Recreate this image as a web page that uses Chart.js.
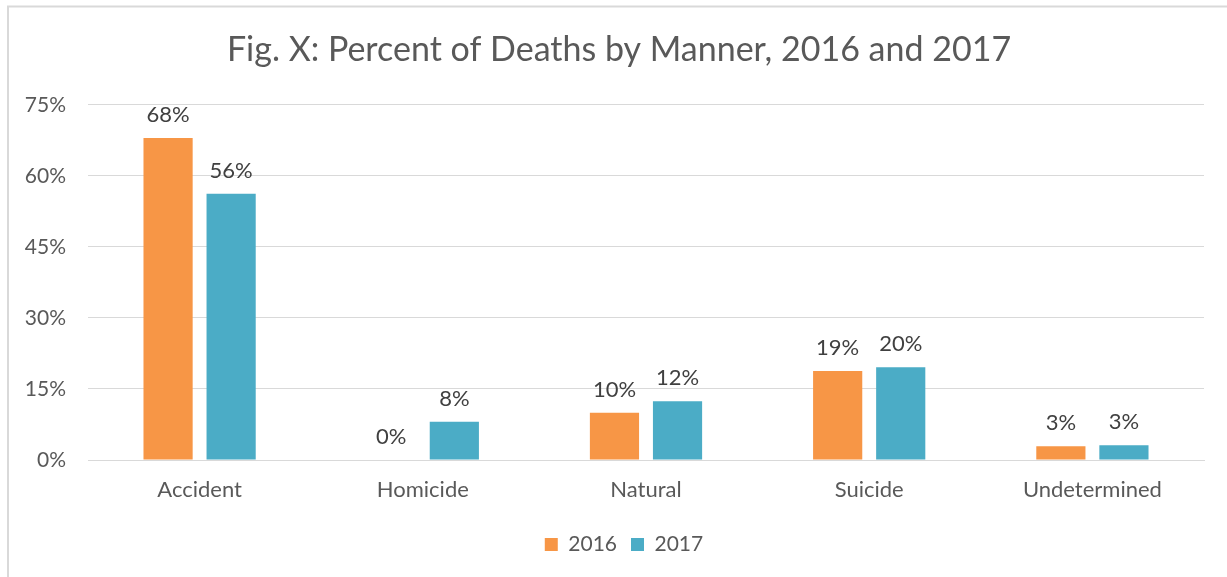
<!DOCTYPE html>
<html>
<head>
<meta charset="utf-8">
<script src="https://cdn.jsdelivr.net/npm/chart.js@4"></script>
<style>
  html, body { margin: 0; padding: 0; background: #fff; }
  #wrap { width: 1227px; height: 577px; position: relative; }
</style>
</head>
<body>
<div id="wrap"><canvas id="mannerChart" width="1227" height="577"></canvas></div>
<script>
// Percent of deaths by manner
const categories = ['Accident', 'Homicide', 'Natural', 'Suicide', 'Undetermined'];
const values2016 = [68.0, 0, 10.0, 18.8, 2.9];
const values2017 = [56.2, 8.1, 12.4, 19.6, 3.1];
const yTicks = [0, 15, 30, 45, 60, 75];

const FONT = 'Lato, "Open Sans", sans-serif';
const GREY_TEXT = '#595959';
const GRID = '#d9d9d9';

// white background + the light frame (left and top only)
const framePlugin = {
    id: 'frame',
    afterLayout(chart) {
        // title and legend sit a little right of the canvas centre in the original
        chart.titleBlock.left += 17;
        chart.titleBlock.right += 17;
        chart.legend.left += 22;
        chart.legend.right += 22;
    },
    beforeDraw(chart) {
        const ctx = chart.ctx;
        ctx.save();
        ctx.fillStyle = '#fff';
        ctx.fillRect(0, 0, chart.width, chart.height);
        ctx.strokeStyle = GRID;
        ctx.lineWidth = 2;
        ctx.beginPath();
        ctx.moveTo(8, chart.height);
        ctx.lineTo(8, 6.5);
        ctx.lineTo(chart.width, 6.5);
        ctx.stroke();
        ctx.restore();
    }
};

// value labels above each bar, rounded to whole percent
const barLabels = {
    id: 'barLabels',
    afterDatasetsDraw(chart) {
        const ctx = chart.ctx;
        ctx.save();
        ctx.font = '22px ' + FONT;
        ctx.fillStyle = '#404040';
        ctx.textAlign = 'center';
        ctx.textBaseline = 'bottom';
        chart.data.datasets.forEach((ds, i) => {
            chart.getDatasetMeta(i).data.forEach((bar, j) => {
                ctx.fillText(Math.round(ds.data[j]) + '%', bar.x, bar.y - 12);
            });
        });
        ctx.restore();
    }
};

const ctx = document.getElementById('mannerChart').getContext('2d');
new Chart(ctx, {
    type: 'bar',
    data: {
        labels: categories,
        datasets: [
            { label: '2016', data: values2016, backgroundColor: '#F79646' },
            { label: '2017', data: values2017, backgroundColor: '#4BACC6' }
        ]
    },
    options: {
        responsive: false,
        animation: false,
        datasets: {
            bar: { categoryPercentage: 0.565, barPercentage: 0.78 }
        },
        layout: { padding: { left: 0, right: 23, top: 0, bottom: 12 } },
        plugins: {
            title: {
                display: true,
                text: 'Fig. X: Percent of Deaths by Manner, 2016 and 2017',
                color: GREY_TEXT,
                font: { family: FONT, size: 34, weight: 'normal' },
                padding: { top: 30, bottom: 34 }
            },
            legend: {
                position: 'bottom',
                labels: {
                    color: GREY_TEXT,
                    font: { family: FONT, size: 21 },
                    boxWidth: 13,
                    boxHeight: 13,
                    padding: 14
                }
            },
            tooltip: { enabled: false }
        },
        scales: {
            x: {
                grid: { display: false, drawTicks: false },
                border: { color: GRID, width: 1 },
                ticks: { color: GREY_TEXT, font: { family: FONT, size: 22 }, padding: 17 },
                afterFit: scale => { scale.height = 60; }
            },
            y: {
                min: 0,
                max: 75,
                afterBuildTicks: scale => { scale.ticks = yTicks.map(v => ({ value: v })); },
                grid: { color: GRID, drawTicks: false },
                border: { display: false },
                ticks: {
                    color: GREY_TEXT,
                    font: { family: FONT, size: 21 },
                    padding: 22,
                    callback: v => v + '%'
                },
                afterFit: scale => { scale.width = 88; }
            }
        }
    },
    plugins: [framePlugin, barLabels]
});
</script>
</body>
</html>
